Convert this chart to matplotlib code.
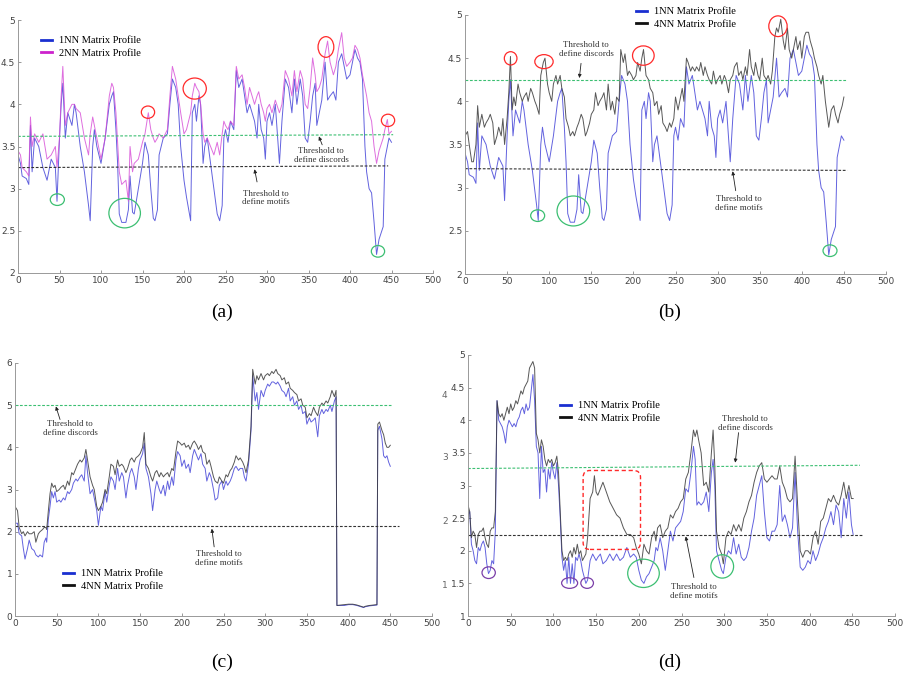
import matplotlib
matplotlib.use("Agg")
import matplotlib.pyplot as plt
from matplotlib.lines import Line2D
from matplotlib.patches import Ellipse, FancyBboxPatch

plt.rcParams['font.family'] = ['DejaVu Sans']

# ---------------- data ----------------
# (a) and (b) share the same 1NN profile
xa = [0, 3, 5, 10, 13, 15, 17, 20, 25, 30,
      35, 40, 45, 47, 50, 52, 54, 57, 60, 65,
      68, 70, 75, 80, 85, 87, 90, 92, 95, 100,
      105, 110, 113, 115, 118, 120, 122, 125, 130, 133,
      135, 138, 140, 145, 150, 153, 157, 160, 163, 165,
      168, 170, 175, 180, 183, 186, 190, 193, 196, 200,
      203, 208, 210, 213, 215, 218, 220, 223, 225, 228,
      232, 236, 240, 243, 246, 248, 250, 253, 256, 260,
      263, 266, 270, 273, 276, 279, 282, 285, 288, 290,
      293, 296, 298, 300, 303, 306, 310, 315, 318, 322,
      326, 330, 333, 336, 340, 343, 346, 349, 352, 355,
      358, 360, 363, 366, 370, 373, 376, 380, 383, 386,
      390, 393, 396, 400, 403, 406, 409, 412, 415, 418,
      420, 423, 426, 429, 432, 435, 440, 442, 445, 447,
      450]
mp1_ab = [3.4, 3.3, 3.15, 3.12, 3.05, 3.75, 3.2, 3.6, 3.5, 3.25,
          3.1, 3.35, 3.25, 2.85, 3.6, 4.0, 4.25, 3.6, 3.9, 3.75,
          4.0, 3.9, 3.5, 3.2, 2.8, 2.62, 3.5, 3.7, 3.5, 3.3,
          3.6, 4.0, 4.1, 4.15, 3.7, 3.3, 2.7, 2.6, 2.6, 2.75,
          3.15, 2.72, 2.7, 3.0, 3.3, 3.55, 3.4, 3.0, 2.65, 2.62,
          2.75, 3.4, 3.6, 3.65, 4.0, 4.3, 4.2, 4.0, 3.5, 3.1,
          2.9, 2.62, 3.9, 4.0, 3.8, 4.1, 4.0, 3.3, 3.5, 3.6,
          3.3, 3.0, 2.7, 2.62, 2.8, 3.6, 3.7, 3.55, 3.8, 3.7,
          4.4, 4.2, 4.3, 4.1, 3.9, 4.0, 3.9, 3.8, 3.6, 4.0,
          3.7, 3.6, 3.35, 3.8, 3.9, 3.75, 4.0, 3.3, 3.8, 4.3,
          4.2, 3.9, 4.3, 4.0, 4.3, 4.1, 3.6, 3.55, 3.8, 4.1,
          4.25, 3.75, 3.9, 4.05, 4.5, 4.05, 4.1, 4.15, 4.05, 4.5,
          4.6, 4.45, 4.3, 4.35, 4.5, 4.65, 4.55, 4.5, 4.3, 3.5,
          3.2, 3.0, 2.95, 2.6, 2.22, 2.4, 2.55, 3.35, 3.5, 3.6,
          3.55]
mp2_a = [3.45, 3.4, 3.25, 3.2, 3.15, 3.85, 3.5, 3.65, 3.55, 3.65,
         3.35, 3.4, 3.5, 3.25, 3.6, 4.1, 4.45, 3.75, 3.9, 4.0,
         4.0, 3.95, 3.9, 3.6, 3.4, 3.65, 3.85, 3.75, 3.6, 3.35,
         3.6, 4.1, 4.25, 4.2, 3.9, 3.55, 3.2, 3.05, 3.1, 2.85,
         3.5, 3.2, 3.3, 3.35, 3.55, 3.65, 3.9, 3.7, 3.6, 3.55,
         3.6, 3.65, 3.6, 3.7, 4.1, 4.45, 4.3, 4.1, 3.9, 3.65,
         3.7, 3.9, 4.1, 4.25, 4.2, 4.15, 4.0, 3.65, 3.55, 3.6,
         3.5, 3.4, 3.55, 3.4, 3.65, 3.8, 3.75, 3.7, 3.8, 3.75,
         4.45, 4.3, 4.35, 4.2, 4.0, 4.2, 4.1, 4.0, 4.1, 4.15,
         4.0, 3.9, 3.8, 3.95, 4.0, 3.9, 4.05, 3.9, 4.0, 4.4,
         4.3, 4.1, 4.4, 4.15, 4.4, 4.3, 4.0, 3.95, 4.2, 4.55,
         4.35, 4.15, 4.2, 4.3, 4.6, 4.75, 4.5, 4.35, 4.45, 4.65,
         4.85, 4.55, 4.45, 4.5, 4.55, 4.7, 4.65, 4.55, 4.35, 4.2,
         4.1, 3.9, 3.8, 3.5, 3.3, 3.45, 3.6, 3.7, 3.82, 3.65,
         3.68]

xb = [0, 3, 5, 8, 10, 13, 15, 17, 20, 23,
      25, 28, 30, 33, 35, 38, 40, 43, 45, 47,
      50, 52, 54, 56, 58, 60, 63, 65, 68, 70,
      73, 75, 78, 80, 83, 85, 88, 90, 93, 95,
      98, 100, 103, 105, 108, 110, 113, 115, 118, 120,
      123, 125, 128, 130, 133, 135, 138, 140, 143, 145,
      148, 150, 153, 155, 158, 160, 163, 165, 168, 170,
      173, 175, 178, 180, 183, 185, 188, 190, 193, 195,
      198, 200, 203, 205, 208, 210, 212, 215, 218, 220,
      223, 225, 228, 230, 233, 235, 238, 240, 243, 245,
      248, 250, 253, 255, 258, 260, 263, 265, 268, 270,
      273, 275, 278, 280, 283, 285, 288, 290, 293, 295,
      298, 300, 303, 305, 308, 310, 313, 315, 318, 320,
      323, 325, 328, 330, 333, 335, 338, 340, 343, 345,
      348, 350, 353, 355, 358, 360, 363, 365, 368, 370,
      372, 375, 378, 380, 383, 385, 388, 390, 393, 395,
      398, 400, 403, 405, 408, 410, 413, 415, 418, 420,
      423, 425, 428, 430, 432, 435, 438, 440, 443, 445,
      448, 450]
mp4_b = [3.6, 3.65, 3.5, 3.3, 3.3, 3.5, 3.95, 3.7, 3.85, 3.7,
         3.75, 3.8, 3.85, 3.75, 3.5, 3.6, 3.7, 3.6, 3.8, 3.5,
         3.8, 4.1, 4.52, 3.9, 4.05, 3.95, 4.2, 4.1, 4.0, 4.05,
         4.1, 4.0, 4.15, 4.1, 4.0, 3.95, 3.85, 4.3, 4.45, 4.5,
         4.2, 4.1, 4.0, 4.2, 4.3, 4.2, 4.3, 4.15, 4.05, 3.8,
         3.7, 3.6, 3.65, 3.6, 3.7, 3.75, 3.85, 3.8, 3.6, 3.65,
         3.75, 3.85, 3.9, 4.1, 3.95, 4.0, 4.05, 4.1, 3.9, 4.2,
         3.9, 4.0, 3.85, 4.05, 4.0, 4.6, 4.45, 4.55, 4.3, 4.35,
         4.3, 4.25, 4.3, 4.45, 4.35, 4.5, 4.6, 4.3, 4.25, 4.15,
         4.1, 3.95, 4.0, 3.85, 3.95, 3.75, 3.7, 3.65, 3.75, 3.7,
         3.8, 4.05, 3.9, 4.0, 4.15, 4.0, 4.5, 4.45, 4.35, 4.4,
         4.35, 4.4, 4.35, 4.45, 4.3, 4.4, 4.3, 4.25, 4.2, 4.35,
         4.2, 4.25, 4.3, 4.2, 4.3, 4.25, 4.1, 4.25, 4.3, 4.4,
         4.45, 4.3, 4.35, 4.25, 4.4, 4.3, 4.6, 4.4, 4.3, 4.45,
         4.3, 4.25, 4.5, 4.3, 4.25, 4.3, 4.2, 4.35, 4.75, 4.85,
         4.8, 4.95, 4.7, 4.6, 4.85, 4.6, 4.5, 4.6, 4.75, 4.6,
         4.7, 4.5, 4.75, 4.8, 4.8, 4.7, 4.6, 4.5, 4.4, 4.3,
         4.2, 4.3, 4.0, 3.85, 3.7, 3.9, 3.95, 3.85, 3.75, 3.85,
         3.95, 4.05]

xc = [0, 3, 5, 8, 10, 12, 15, 17, 20, 23,
      25, 28, 30, 33, 35, 37, 38, 40, 42, 44,
      46, 48, 50, 53, 55, 58, 60, 63, 65, 68,
      70, 73, 75, 78, 80, 83, 85, 87, 90, 93,
      95, 98, 100, 103, 105, 108, 110, 113, 115, 118,
      120, 123, 125, 128, 130, 133, 135, 138, 140, 143,
      145, 148, 150, 153, 155, 157, 160, 163, 165, 168,
      170, 173, 175, 178, 180, 183, 185, 188, 190, 193,
      195, 198, 200, 203, 205, 208, 210, 213, 215, 218,
      220, 223, 225, 228, 230, 233, 235, 238, 240, 243,
      245, 248, 250, 253, 255, 258, 260, 263, 265, 268,
      270, 273, 275, 277, 280, 283, 285, 288, 290, 292,
      295, 298, 300, 303, 305, 308, 310, 313, 315, 318,
      320, 323, 325, 328, 330, 333, 335, 338, 340, 343,
      345, 348, 350, 353, 355, 358, 360, 363, 365, 368,
      370, 373, 375, 378, 380, 383, 385, 386, 390, 395,
      400, 405, 410, 415, 418, 420, 425, 430, 434, 435,
      437, 440, 442, 444, 446, 448, 450]
mp1_c = [2.2, 2.2, 1.95, 1.9, 1.6, 1.35, 1.6, 1.8, 1.6, 1.55,
         1.45, 1.4, 1.45, 1.4, 1.75, 1.85, 1.75, 2.3, 2.6, 2.95,
         2.8, 2.95, 2.7, 2.75, 2.7, 2.8, 2.75, 2.95, 2.9, 3.0,
         3.15, 3.25, 3.2, 3.3, 3.35, 3.2, 3.8, 3.4, 2.9, 3.0,
         2.8, 2.5, 2.15, 2.6, 2.5, 2.95, 2.7, 3.1, 3.3, 3.2,
         3.0, 3.5, 3.2, 3.4, 3.3, 2.8, 3.1, 3.4, 3.5, 3.3,
         3.0, 3.5, 3.7, 3.85, 4.1, 3.5, 3.3, 2.9, 2.5, 3.0,
         3.2, 3.0, 2.9, 3.1, 2.85, 3.2, 3.0, 3.3, 3.1, 3.7,
         3.9, 3.8, 3.55, 3.7, 3.5, 3.6, 3.4, 3.8, 3.95, 3.8,
         3.7, 3.85, 3.6, 3.5, 3.2, 3.4, 3.3, 3.0, 2.75, 2.8,
         3.1, 3.2, 3.0, 3.2, 3.1, 3.2, 3.3, 3.5, 3.55, 3.45,
         3.5, 3.5, 3.3, 3.2, 3.6, 4.4, 5.7, 5.1, 5.3, 4.9,
         5.35, 5.2, 5.35, 5.5, 5.45, 5.55, 5.55, 5.5, 5.55, 5.45,
         5.35, 5.3, 5.2, 5.4, 5.1, 5.2, 5.0, 5.1, 4.9, 5.0,
         4.8, 4.85, 4.55, 4.7, 4.6, 4.65, 4.7, 4.25, 4.75, 4.9,
         4.8, 4.9, 4.85, 5.0, 4.85, 5.1, 5.2, 0.25, 0.25, 0.25,
         0.27, 0.27, 0.25, 0.22, 0.2, 0.22, 0.24, 0.25, 0.26, 4.4,
         4.5, 4.2, 3.8, 3.75, 3.8, 3.65, 3.55]
mp4_c = [2.6, 2.5, 2.1, 1.95, 2.0, 1.9, 2.0, 1.95, 1.95, 2.0,
         1.75, 1.95, 2.0, 2.05, 2.1, 2.1, 2.05, 2.5, 2.9, 3.15,
         3.05, 3.1, 2.95, 3.0, 3.05, 3.1, 3.0, 3.2, 3.1, 3.4,
         3.35, 3.5, 3.6, 3.7, 3.65, 3.75, 3.95, 3.7, 3.3, 3.1,
         3.0, 2.6, 2.5, 2.6, 2.7, 3.0, 2.9, 3.3, 3.6, 3.55,
         3.35, 3.7, 3.55, 3.6, 3.55, 3.4, 3.5, 3.7, 3.75, 3.65,
         3.75, 3.8, 3.85, 4.0, 4.35, 3.6, 3.5, 3.3, 3.2, 3.4,
         3.45, 3.3, 3.4, 3.3, 3.35, 3.4, 3.3, 3.5, 3.45, 3.9,
         4.15, 4.1, 4.05, 4.1, 4.0, 4.05, 3.95, 4.1, 4.15, 4.05,
         3.95, 4.05, 3.9, 3.85, 3.6, 3.7, 3.55, 3.3, 3.2, 3.15,
         3.3, 3.2, 3.15, 3.35, 3.3, 3.45, 3.5, 3.65, 3.8, 3.7,
         3.75, 3.65, 3.55, 3.4, 3.7, 4.5, 5.85, 5.5, 5.7, 5.6,
         5.75, 5.6, 5.7, 5.75, 5.7, 5.8, 5.75, 5.85, 5.75, 5.7,
         5.6, 5.65, 5.5, 5.55, 5.4, 5.35, 5.3, 5.25, 5.1, 5.15,
         5.0, 4.95, 4.7, 4.8, 4.75, 4.95, 4.85, 4.75, 4.95, 5.05,
         5.0, 5.1, 5.05, 5.2, 5.35, 5.2, 5.35, 0.25, 0.26, 0.27,
         0.28, 0.28, 0.26, 0.23, 0.21, 0.23, 0.25, 0.26, 0.27, 4.55,
         4.6, 4.4, 4.3, 4.1, 4.0, 4.0, 4.05]

xd = [0, 2, 4, 6, 8, 10, 12, 14, 16, 18,
      20, 22, 24, 26, 28, 30, 32, 34, 36, 38,
      40, 42, 44, 46, 48, 50, 52, 54, 56, 58,
      60, 62, 64, 66, 68, 70, 72, 74, 76, 78,
      80, 82, 84, 86, 88, 90, 92, 94, 96, 98,
      100, 102, 104, 106, 108, 110, 112, 114, 116, 118,
      120, 122, 124, 126, 128, 130, 132, 134, 136, 138,
      140, 143, 146, 148, 150, 152, 155, 158, 162, 166,
      170, 174, 178, 182, 186, 190, 194, 197, 200, 203,
      206, 209, 212, 215, 218, 220, 222, 225, 228, 231,
      234, 237, 240, 243, 246, 249, 252, 255, 258, 261,
      264, 266, 268, 270, 273, 276, 279, 282, 285, 287,
      289, 291, 294, 297, 299, 302, 305, 308, 311, 314,
      317, 320, 323, 326, 329, 332, 335, 338, 341, 344,
      347, 350, 353, 356, 359, 362, 365, 368, 371, 374,
      377, 380, 383, 386, 389, 392, 395, 398, 401, 404,
      407, 410, 413, 416, 419, 422, 425, 428, 431, 434,
      437, 440, 443, 446, 449, 451]
mp1_d = [2.55, 2.6, 2.1, 2.0, 1.85, 1.8, 2.05, 2.0, 2.1, 2.15,
         2.05, 1.8, 1.65, 1.7, 1.85, 1.8, 2.3, 4.3, 4.0, 3.95,
         3.9, 3.8, 3.65, 3.9, 4.0, 3.95, 3.9, 3.95, 3.9, 4.0,
         4.05, 4.15, 4.2, 4.1, 4.25, 4.15, 4.2, 4.45, 4.7, 4.3,
         3.6, 3.5, 2.8, 3.6, 3.2, 3.25, 2.9, 3.25, 3.1, 3.35,
         3.2, 3.1, 3.35, 3.0, 2.5, 1.9, 1.7, 1.85, 1.5, 1.9,
         1.5, 1.8, 1.5, 1.9, 1.85, 1.95, 1.85, 1.7, 1.6, 1.5,
         1.55, 1.85, 1.95, 1.9, 1.85, 1.9, 1.95, 1.8, 1.85, 1.95,
         1.85, 1.95, 1.85, 1.9, 2.05, 1.9, 1.95, 1.9, 1.7, 1.55,
         1.5, 1.6, 1.65, 1.75, 1.85, 2.05, 2.0, 2.2, 2.0, 1.7,
         2.0, 2.3, 2.15, 2.35, 2.4, 2.45, 2.6, 2.95, 2.9, 3.2,
         3.6, 3.4, 2.7, 2.75, 2.7, 2.75, 2.9, 2.6, 3.2, 3.4,
         3.0, 2.0, 1.85, 1.7, 1.65, 1.9, 2.0, 1.95, 2.2, 1.95,
         2.1, 1.9, 1.85, 1.9, 2.05, 2.3, 2.5, 2.85, 3.0, 3.15,
         2.6, 2.2, 2.15, 2.3, 2.3, 2.4, 3.0, 2.45, 2.55, 2.4,
         2.2, 2.35, 3.2, 2.3, 1.75, 1.7, 1.75, 1.85, 1.8, 2.0,
         1.85, 1.95, 2.1, 2.2, 2.35, 2.45, 2.6, 2.4, 2.7, 2.6,
         2.2, 2.8, 2.5, 2.9, 2.4, 2.25]
mp4_d = [2.7, 2.6, 2.2, 2.3, 2.25, 2.05, 2.25, 2.3, 2.3, 2.35,
         2.2, 2.1, 2.05, 2.3, 2.35, 2.35, 2.6, 4.3, 4.1, 4.05,
         4.1, 4.0, 4.1, 4.2, 4.1, 4.25, 4.15, 4.2, 4.3, 4.25,
         4.35, 4.45, 4.4, 4.5, 4.55, 4.6, 4.8, 4.85, 4.9, 4.8,
         3.8, 3.7, 3.5, 3.7, 3.6, 3.4, 3.3, 3.4, 3.35, 3.4,
         3.3, 3.35, 3.45, 3.2, 2.6, 2.0, 1.85, 1.9, 1.85, 1.95,
         2.0, 1.9, 2.05, 1.95, 2.1, 1.95, 2.0, 1.85, 1.9, 1.95,
         2.2, 2.8, 2.9, 3.15, 2.9, 2.85, 2.95, 3.05, 2.9, 2.75,
         2.65, 2.55, 2.5, 2.35, 2.25, 2.25, 2.2, 2.05, 1.95, 1.8,
         2.1, 2.0, 1.95, 2.2, 2.3, 2.15, 2.35, 2.4, 2.2, 2.3,
         2.35, 2.55, 2.5, 2.6, 2.65, 2.75, 2.8, 3.1, 3.2, 3.5,
         3.85, 3.75, 3.85, 3.7, 3.5, 3.0, 3.05, 2.9, 3.5, 3.85,
         3.3, 2.3, 2.05, 1.95, 1.8, 2.2, 2.3, 2.25, 2.4, 2.3,
         2.4, 2.3, 2.5, 2.6, 2.75, 2.85, 3.05, 3.2, 3.3, 3.35,
         3.1, 3.05, 3.1, 3.15, 3.1, 3.1, 3.3, 3.05, 2.95, 2.8,
         2.75, 2.8, 3.45, 2.7, 2.0, 1.9, 2.0, 2.0, 1.95, 2.2,
         2.3, 2.1, 2.45, 2.5, 2.65, 2.8, 2.75, 2.85, 2.75, 2.7,
         2.85, 3.05, 2.8, 3.0, 2.8, 2.8]

# threshold lines: y at the two ends, per panel
disc_a, motif_a = [3.62, 3.64], [3.25, 3.27]
disc_b, motif_b = [4.25, 4.25], [3.22, 3.20]
disc_c, motif_c = [5.0, 5.0], [2.13, 2.13]
disc_d, motif_d = [3.26, 3.31], [2.24, 2.24]

BLUE = '#3b3bd6'
MAG = '#d64ad6'
BLK = '#3a3a3a'
GREEN = '#3cbf72'
RED = '#ff2a2a'
PURPLE = '#7b3fa8'
SERIF = 'Liberation Serif'

W, H = 905, 676
fig = plt.figure(figsize=(W / 100, H / 100), dpi=100)


def make_ax(left, right, top, bottom, ylim, yticks):
    ax = fig.add_axes([left / W, 1 - bottom / H, (right - left) / W, (bottom - top) / H])
    ax.set_xlim(0, 500)
    ax.set_ylim(*ylim)
    ax.set_xticks(range(0, 501, 50))
    ax.set_yticks(yticks)
    ax.set_yticklabels(['%g' % t for t in yticks])
    for s in ['top', 'right']:
        ax.spines[s].set_visible(False)
    for s in ['left', 'bottom']:
        ax.spines[s].set_color('#999999')
        ax.spines[s].set_linewidth(0.7)
    ax.tick_params(direction='in', length=2.5, width=0.6, color='#888888',
                   labelsize=6.5, labelcolor='#444444', pad=2)
    return ax


def thresholds(ax, disc, motif, xend_d, xend_m):
    ax.plot([0, xend_d], disc, ls=(0, (2.5, 1.5)), color=GREEN, lw=0.8)
    ax.plot([0, xend_m], motif, ls=(0, (2.5, 1.5)), color='#333333', lw=0.8)


def note(ax, txt, xy_text, tail, tip):
    ax.text(xy_text[0], xy_text[1], txt, ha='center', va='center', family=SERIF,
            fontsize=6.4, color='#333333', linespacing=1.1)
    ax.annotate('', xy=tip, xytext=tail,
                arrowprops=dict(arrowstyle='-|>', lw=0.6, color='#222222',
                                mutation_scale=5, shrinkA=0, shrinkB=0))


def rings(ax, items, color):
    for (cx, cy, w, h) in items:
        ax.add_patch(Ellipse((cx, cy), w, h, fill=False, ec=color, lw=0.9, zorder=5))


def legend(ax, names, colors, x, y):
    handles = [Line2D([], [], color=c, lw=2) for c in colors]
    ax.legend(handles, names, loc='upper left', bbox_to_anchor=(x / W, 1 - y / H),
              bbox_transform=fig.transFigure, frameon=False, borderpad=0,
              borderaxespad=0, handlelength=1.1, handletextpad=0.6,
              labelspacing=0.3, prop={'family': SERIF, 'size': 7.5})


disc_txt = 'Threshold to\ndefine discords'
motif_txt = 'Threshold to\ndefine motifs'

# ---------------- (a) ----------------
ax = make_ax(18, 433, 20, 273, (2, 5), [2, 2.5, 3, 3.5, 4, 4.5, 5])
ax.plot(xa, mp1_ab, color=BLUE, lw=0.7, alpha=0.8)
ax.plot(xa, mp2_a, color=MAG, lw=0.7, alpha=0.8)
thresholds(ax, disc_a, motif_a, 452, 446)
note(ax, disc_txt, (365, 3.39), (366.5, 3.52), (362.5, 3.62))
note(ax, motif_txt, (299, 2.89), (288, 3.08), (285, 3.23))
rings(ax, [(156.6, 3.907, 16, 0.146), (212.9, 4.187, 28, 0.25),
           (371, 4.68, 19, 0.245), (445.8, 3.81, 16, 0.146)], RED)
rings(ax, [(47.4, 2.87, 17, 0.138), (128.5, 2.71, 38, 0.35),
           (433.7, 2.257, 16, 0.138)], GREEN)
legend(ax, ['1NN Matrix Profile', '2NN Matrix Profile'], ['#1a2fd0', '#cc22cc'], 41, 36)

# ---------------- (b) ----------------
ax = make_ax(465, 886, 15, 274, (2, 5), [2, 2.5, 3, 3.5, 4, 4.5, 5])
ax.plot(xa, mp1_ab, color=BLUE, lw=0.7, alpha=0.8)
ax.plot(xb, mp4_b, color=BLK, lw=0.7, alpha=0.85)
thresholds(ax, disc_b, motif_b, 454, 454)
note(ax, disc_txt, (143.7, 4.6), (137.8, 4.44), (135.8, 4.27))
note(ax, motif_txt, (325, 2.82), (321.5, 2.965), (317.9, 3.19))
rings(ax, [(54.2, 4.498, 15, 0.154), (93.8, 4.46, 21.8, 0.162),
           (211.8, 4.53, 25.7, 0.224), (371.7, 4.87, 21.8, 0.24)], RED)
rings(ax, [(86.3, 2.676, 16.6, 0.135), (128.7, 2.73, 38.8, 0.347),
           (433.5, 2.27, 16.6, 0.135)], GREEN)
legend(ax, ['1NN Matrix Profile', '4NN Matrix Profile'], ['#1a2fd0', '#111111'], 636, 7)

# ---------------- (c) ----------------
ax = make_ax(15, 432, 363, 616, (0, 6), [0, 1, 2, 3, 4, 5, 6])
ax.plot(xc, mp1_c, color=BLUE, lw=0.7, alpha=0.8)
ax.plot(xc, mp4_c, color=BLK, lw=0.7, alpha=0.85)
thresholds(ax, disc_c, motif_c, 451, 460)
note(ax, disc_txt, (66, 4.45), (54, 4.66), (49, 4.97))
note(ax, motif_txt, (244, 1.36), (238.8, 1.64), (236, 2.07))
legend(ax, ['1NN Matrix Profile', '4NN Matrix Profile'], ['#1a2fd0', '#111111'], 63, 569)

# ---------------- (d) ----------------
ax = make_ax(468, 895, 355, 616, (1, 5), [1, 1.5, 2, 2.5, 3, 3.5, 4, 4.5, 5])
ax.plot(xd, mp1_d, color=BLUE, lw=0.7, alpha=0.8)
ax.plot(xd, mp4_d, color=BLK, lw=0.7, alpha=0.85)
thresholds(ax, disc_d, motif_d, 459, 461)
note(ax, disc_txt, (324.6, 3.95), (316.8, 3.81), (312.9, 3.35))
note(ax, motif_txt, (264.5, 1.38), (264.5, 1.59), (255, 2.22))
rings(ax, [(24.2, 1.664, 15.6, 0.179), (119, 1.505, 18.75, 0.163),
           (139.5, 1.505, 14.8, 0.163)], PURPLE)
rings(ax, [(205.5, 1.654, 37, 0.434), (297.7, 1.76, 26.6, 0.358)], GREEN)
ax.add_patch(FancyBboxPatch((134.8, 2.02), 67.2, 1.21,
                            boxstyle='round,pad=0,rounding_size=8', mutation_aspect=0.0131,
                            fill=False, ec=RED, lw=1.0, ls=(0, (3, 2)), zorder=5))
legend(ax, ['1NN Matrix Profile', '4NN Matrix Profile'], ['#1a2fd0', '#111111'], 560, 401)

# clipped tick labels of a hidden axis, left of panel (d)
for lab, yy in [('4', 395), ('3', 458), ('2', 522), ('1', 585)]:
    fig.text(442 / W, 1 - yy / H, lab, fontsize=6.5, color='#666666', va='center')

# captions
for lab, cx, cy in [('(a)', 222, 312), ('(b)', 670, 312), ('(c)', 222, 662), ('(d)', 670, 662)]:
    fig.text(cx / W, 1 - cy / H, lab, ha='center', va='center', family=SERIF, fontsize=14)

fig.savefig('out.png', dpi=100)
